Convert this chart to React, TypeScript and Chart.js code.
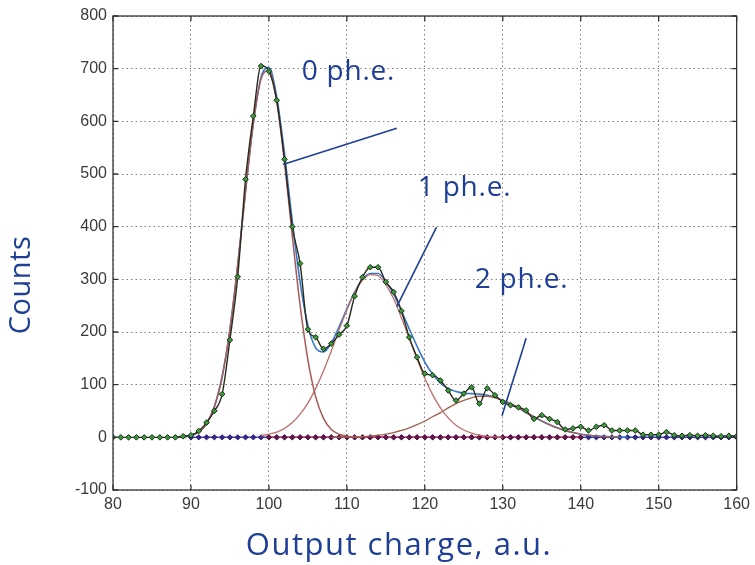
import React, { useEffect, useRef } from "react";
import { Chart, registerables } from "chart.js";

Chart.register(...registerables);

// ---- data (x = output charge, a.u.; y = counts) ----
const measuredStart = 80;
const measuredCounts = [
  0, 0, 0, 0, 0, 0, 0, 0, 0, 2,
  4, 12, 28, 50, 82, 185, 305, 490, 610, 705,
  695, 640, 528, 400, 330, 205, 190, 168, 178, 195,
  212, 268, 304, 323, 323, 295, 276, 240, 190, 152,
  121, 118, 108, 89, 70, 83, 95, 64, 93, 80,
  67, 61, 57, 51, 35, 42, 35, 29, 15, 17,
  20, 13, 20, 23, 13, 13, 13, 13, 5, 5,
  5, 10, 4, 3, 4, 3, 4, 3, 2, 3,
  2,
];

const totalFitStart = 88;
const totalFit = [
  0, 1.5, 4, 10, 26, 58, 115, 205, 327, 467,
  596, 684, 702, 647, 539, 410, 295, 212, 170, 162,
  179, 210, 244, 276, 300, 311, 311, 296, 272, 240,
  206, 173, 143, 120, 103, 93, 87, 84, 83, 82,
  80, 76, 70, 64, 56, 47, 39, 31, 24, 18,
  13, 9, 6, 4, 2.4, 1.5, 1, 0.5, 0,
];

const peak0Start = 88;
const peak0Fit = [
  0, 1.5, 4, 10, 26, 58, 115, 205, 327, 467,
  596, 681, 696, 637, 522, 382, 251, 147, 77, 36,
  15, 6, 2, 0.5, 0,
];

const peak1Start = 99;
const peak1Fit = [
  3, 6, 10, 17, 28, 44, 65, 93, 126, 164,
  204, 242, 275, 298, 309, 307, 290, 263, 227, 188,
  149, 112, 81, 56, 37, 23, 14, 8, 4, 2,
  1, 0,
];

const peak2Start = 108;
const peak2Fit = [
  0, 0.3, 0.5, 1, 1.5, 2.4, 3.8, 6, 9, 13,
  18, 24, 31, 39, 47, 56, 64, 70, 75, 78,
  78, 75, 70, 64, 56, 47, 39, 31, 24, 18,
  13, 9, 6, 4, 2.4, 1.5, 1, 0.5,
];

const backgroundStart = 90;
const backgroundFit = [
  0, 0, 0, 0, 0, 0, 0, 0, 0, 0,
  0, 0, 0, 0, 0, 0, 0, 0, 0, 0,
  0, 0, 0, 0, 0, 0, 0, 0, 0, 0,
  0, 0, 0, 0, 0, 0, 0, 0, 0, 0,
  0, 0, 0, 0, 0, 0, 0, 0, 0, 0,
  0, 0, 0, 0, 0, 0, 0, 0, 0, 0,
  0, 0, 0, 0, 0, 0, 0, 0, 0, 0,
  0,
];

const residualStart = 100;
const residual = [
  0, 0, 0, 0, 0, 0, 0, 0, 0, 0,
  0, 0, 0, 0, 0, 0, 0, 0, 0, 0,
  0, 0, 0, 0, 0, 0, 0, 0, 0, 0,
  0, 0, 0, 0, 0, 0, 0, 0, 0, 0,
  0,
];

const xTicks = [80, 90, 100, 110, 120, 130, 140, 150, 160];
const yTicks = [-100, 0, 100, 200, 300, 400, 500, 600, 700, 800];

// annotation labels (data coordinates) and pointer lines
const labelTexts = ["0 ph.e.", "1 ph.e.", "2 ph.e."];
const labelX = [104.2, 119.1, 126.4];
const labelY = [694, 473, 299];
const pointerFromX = [116.4, 121.5, 133.0];
const pointerFromY = [587, 399, 188];
const pointerToX = [101.8, 116.4, 129.9];
const pointerToY = [518, 248, 41];

const xTitle = "Output charge, a.u.";
const yTitle = "Counts";

const toPts = (start: number, arr: number[]) =>
  arr.map((v, i) => ({ x: start + i, y: v }));

const BLUE_TEXT = "#1f3f96";
const TEXT_FONT = '"Open Sans", "Noto Sans", sans-serif';

const framePlugin = {
  id: "frame",
  afterDraw(chart: any) {
    const { ctx, chartArea, scales } = chart;
    const { left, right, top, bottom } = chartArea;
    ctx.save();
    ctx.strokeStyle = "#333";
    ctx.lineWidth = 1.3;
    ctx.strokeRect(left, top, right - left, bottom - top);
    const tl = 5;
    ctx.beginPath();
    xTicks.forEach((t) => {
      const px = scales.x.getPixelForValue(t);
      ctx.moveTo(px, bottom);
      ctx.lineTo(px, bottom - tl);
      ctx.moveTo(px, top);
      ctx.lineTo(px, top + tl);
    });
    yTicks.forEach((t) => {
      const py = scales.y.getPixelForValue(t);
      ctx.moveTo(left, py);
      ctx.lineTo(left + tl, py);
      ctx.moveTo(right, py);
      ctx.lineTo(right - tl, py);
    });
    ctx.stroke();

    // annotations
    ctx.fillStyle = BLUE_TEXT;
    ctx.strokeStyle = BLUE_TEXT;
    ctx.lineWidth = 1.6;
    ctx.font = `28px ${TEXT_FONT}`;
    (ctx as any).letterSpacing = "0.8px";
    ctx.textAlign = "left";
    ctx.textBaseline = "middle";
    labelTexts.forEach((txt, i) => {
      ctx.fillText(
        txt,
        scales.x.getPixelForValue(labelX[i]),
        scales.y.getPixelForValue(labelY[i])
      );
      ctx.beginPath();
      ctx.moveTo(
        scales.x.getPixelForValue(pointerFromX[i]),
        scales.y.getPixelForValue(pointerFromY[i])
      );
      ctx.lineTo(
        scales.x.getPixelForValue(pointerToX[i]),
        scales.y.getPixelForValue(pointerToY[i])
      );
      ctx.stroke();
    });

    // axis titles
    ctx.font = `31px ${TEXT_FONT}`;
    (ctx as any).letterSpacing = "1.5px";
    ctx.textAlign = "center";
    ctx.textBaseline = "middle";
    ctx.fillText(xTitle, 399, 546);
    ctx.font = `29px ${TEXT_FONT}`;
    (ctx as any).letterSpacing = "0.5px";
    ctx.save();
    ctx.translate(22, 285);
    ctx.rotate(-Math.PI / 2);
    ctx.fillText(yTitle, 0, 0);
    ctx.restore();
    (ctx as any).letterSpacing = "0px";
    ctx.restore();
  },
};

const whiteBg = {
  id: "whiteBg",
  beforeDraw(chart: any) {
    const { ctx, width, height } = chart;
    ctx.save();
    ctx.fillStyle = "#fff";
    ctx.fillRect(0, 0, width, height);
    ctx.restore();
  },
};

export default function App() {
  const ref = useRef<HTMLCanvasElement | null>(null);

  useEffect(() => {
    if (!ref.current) return;
    const lineDefaults = {
      fill: false,
      cubicInterpolationMode: "monotone" as const,
      spanGaps: false,
    };
    const tickFont = { family: '"Liberation Sans", Arial, sans-serif', size: 16 };
    const chart = new Chart(ref.current, {
      type: "line",
      data: {
        datasets: [
          {
            ...lineDefaults,
            label: "measured",
            data: toPts(measuredStart, measuredCounts),
            borderColor: "#2a2a1c",
            borderWidth: 1.4,
            pointStyle: "rectRot",
            pointRadius: 2.8,
            pointBackgroundColor: "#3c9a3a",
            pointBorderColor: "#143014",
            pointBorderWidth: 1,
          },
          {
            ...lineDefaults,
            label: "0 ph.e.",
            data: toPts(peak0Start, peak0Fit),
            borderColor: "#a85a58",
            borderWidth: 1.5,
            pointRadius: 0,
          },
          {
            ...lineDefaults,
            label: "1 ph.e.",
            data: toPts(peak1Start, peak1Fit),
            borderColor: "#c0706c",
            borderWidth: 1.3,
            pointRadius: 0,
          },
          {
            ...lineDefaults,
            label: "2 ph.e.",
            data: toPts(peak2Start, peak2Fit),
            borderColor: "#a0604a",
            borderWidth: 1.3,
            pointRadius: 0,
          },
          {
            ...lineDefaults,
            label: "total fit",
            data: toPts(totalFitStart, totalFit),
            borderColor: "#3577c8",
            borderWidth: 1.6,
            pointRadius: 0,
          },
          {
            ...lineDefaults,
            label: "residual",
            data: toPts(residualStart, residual),
            borderColor: "#e0306a",
            borderWidth: 1.5,
            pointStyle: "rectRot",
            pointRadius: 2.5,
            pointBackgroundColor: "#6a1848",
            pointBorderColor: "#4a1040",
            pointBorderWidth: 1,
          },
          {
            ...lineDefaults,
            label: "background",
            data: toPts(backgroundStart, backgroundFit),
            borderColor: "#3848c8",
            borderWidth: 1.5,
            pointStyle: "rectRot",
            pointRadius: 2.6,
            pointBackgroundColor: "#3a2a90",
            pointBorderColor: "#22186a",
            pointBorderWidth: 1,
          },
        ],
      },
      options: {
        responsive: false,
        animation: false,
        events: [],
        layout: { padding: { top: 16, right: 13, left: 0, bottom: 0 } },
        plugins: {
          legend: { display: false },
          tooltip: { enabled: false },
        },
        scales: {
          x: {
            type: "linear",
            min: 80,
            max: 160,
            afterFit: (s: any) => {
              s.height = 75;
            },
            afterBuildTicks: (s: any) => {
              s.ticks = xTicks.map((v) => ({ value: v }));
            },
            ticks: {
              color: "#3a3a3a",
              font: tickFont,
              padding: 5,
              maxRotation: 0,
              autoSkip: false,
            },
            grid: {
              color: "#808080",
              lineWidth: 1,
              drawTicks: false,
              tickLength: 0,
            },
            border: { display: false, dash: [1.5, 3] },
          },
          y: {
            type: "linear",
            min: -100,
            max: 800,
            afterFit: (s: any) => {
              s.width = 113;
            },
            afterBuildTicks: (s: any) => {
              s.ticks = yTicks.map((v) => ({ value: v }));
            },
            ticks: {
              color: "#3a3a3a",
              font: tickFont,
              padding: 6,
              autoSkip: false,
            },
            grid: {
              color: "#808080",
              lineWidth: 1,
              drawTicks: false,
              tickLength: 0,
            },
            border: { display: false, dash: [1.5, 3] },
          },
        },
      },
      plugins: [whiteBg, framePlugin],
    });
    return () => chart.destroy();
  }, []);

  return (
    <div
      style={{
        position: "fixed",
        left: 0,
        top: 0,
        width: 755,
        height: 565,
        background: "#fff",
      }}
    >
      <canvas ref={ref} width={755} height={565} style={{ width: 755, height: 565 }} />
    </div>
  );
}
